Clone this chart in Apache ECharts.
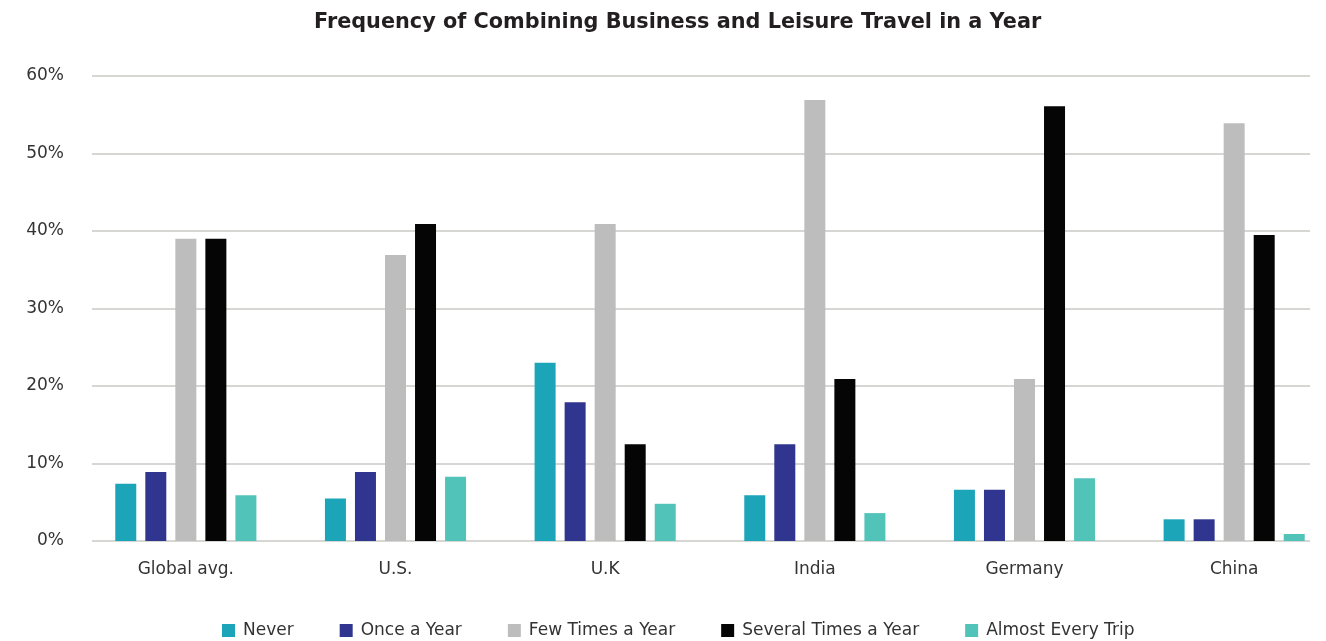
<!DOCTYPE html>
<html>
<head>
<meta charset="utf-8">
<script src="https://cdn.jsdelivr.net/npm/echarts@6/dist/echarts.min.js"></script>
<style>
  html, body { margin: 0; padding: 0; background: #ffffff; }
  #chart { width: 1326px; height: 641px; }
</style>
</head>
<body>
<div id="chart"></div>
<script>
// Share of travellers by how often they combine business and leisure travel (%)
const categories = ['Global avg.', 'U.S.', 'U.K', 'India', 'Germany', 'China'];
const seriesNames = ['Never', 'Once a Year', 'Few Times a Year', 'Several Times a Year', 'Almost Every Trip'];
const never = [7.4, 5.5, 23, 5.9, 6.6, 2.8];
const onceAYear = [8.9, 8.9, 17.9, 12.5, 6.6, 2.8];
const fewTimesAYear = [39, 36.9, 40.9, 56.9, 20.9, 53.9];
const severalTimesAYear = [39, 40.9, 12.5, 20.9, 56.1, 39.5];
const almostEveryTrip = [5.9, 8.3, 4.8, 3.6, 8.1, 0.9];
const yTicks = [0, 10, 20, 30, 40, 50, 60];

const seriesValues = [never, onceAYear, fewTimesAYear, severalTimesAYear, almostEveryTrip];
const colors = ['#1ca5b8', '#303590', '#bdbdbd', '#050505', '#52c3b9'];
const font = 'DejaVu Sans';

const chart = echarts.init(document.getElementById('chart'), null, { renderer: 'canvas' });

chart.setOption({
  backgroundColor: '#ffffff',
  color: colors,
  animation: false,
  title: {
    text: 'Frequency of Combining Business and Leisure Travel in a Year',
    left: 309,
    top: 7,
    textStyle: { fontFamily: font, fontSize: 20.8, fontWeight: 'bold', color: '#231f20' }
  },
  legend: {
    data: seriesNames,
    top: 617,
    left: 217,
    itemWidth: 13,
    itemHeight: 13,
    itemGap: 46,
    icon: 'rect',
    textStyle: { fontFamily: font, fontSize: 17, color: '#333333', padding: [0, 0, 0, 3] }
  },
  grid: [
    // value grid: gridlines and percentage labels
    { left: 92, right: 16, top: 76, bottom: 100, outerBoundsMode: 'none' },
    // bar grid: category bands, slightly wider than the gridlines
    { left: 81, width: 1258, top: 76, bottom: 100, outerBoundsMode: 'none' }
  ],
  xAxis: [
    { type: 'category', gridIndex: 0, data: categories, show: false },
    {
      type: 'category', gridIndex: 1, data: categories,
      axisLine: { show: false }, axisTick: { show: false },
      axisLabel: { margin: 20, fontFamily: font, fontSize: 17, color: '#333333' }
    }
  ],
  yAxis: [
    {
      type: 'value', gridIndex: 0, min: 0, max: 60, interval: 10,
      axisLine: { show: false }, axisTick: { show: false },
      splitLine: { lineStyle: { color: '#c8c8c3', width: 1.5 } },
      axisLabel: {
        margin: 28, fontFamily: font, fontSize: 17, color: '#333333',
        formatter: v => (yTicks.includes(v) ? v + '%' : '')
      }
    },
    {
      type: 'value', gridIndex: 1, min: 0, max: 60, interval: 10,
      show: false, splitLine: { show: false }
    }
  ],
  series: seriesNames.map((name, i) => ({
    name: name,
    type: 'bar',
    xAxisIndex: 1,
    yAxisIndex: 1,
    data: seriesValues[i],
    barWidth: 21,
    barGap: '43%',
    itemStyle: { color: colors[i] }
  }))
});
</script>
</body>
</html>
